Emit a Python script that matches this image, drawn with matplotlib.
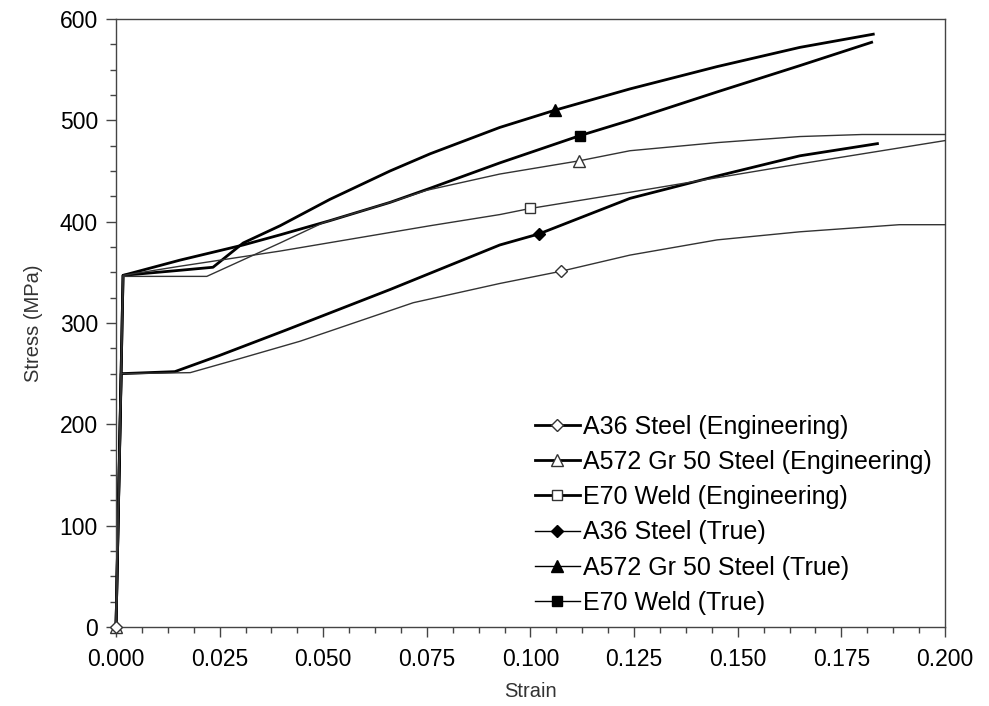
import matplotlib
matplotlib.use("Agg")
import matplotlib.pyplot as plt
from matplotlib.ticker import MultipleLocator

plt.rcParams['font.family'] = ['Liberation Sans', 'DejaVu Sans']

# stress-strain data (strain, stress in MPa)
a36_eng_strain = [0.0, 0.00125, 0.0179, 0.030, 0.0444, 0.0516, 0.0717, 0.0926, 0.1073, 0.124, 0.145, 0.165, 0.189, 0.200]
a36_eng_stress = [0, 250, 251, 265, 282, 292, 320, 339, 351, 367, 382, 390, 397, 397]

a572_eng_strain = [0.0, 0.0017, 0.0219, 0.0396, 0.050, 0.0661, 0.075, 0.0926, 0.1117, 0.124, 0.145, 0.165, 0.180, 0.200]
a572_eng_stress = [0, 346, 346, 379, 399, 419, 431, 447, 460, 470, 478, 484, 486, 486]

e70_eng_strain = [0.0, 0.0017, 0.0154, 0.0396, 0.0758, 0.0926, 0.0999, 0.124, 0.165, 0.200]
e70_eng_stress = [0, 347, 356, 371, 396, 407, 413, 429, 457, 480]

a36_true_strain = [0.0, 0.00125, 0.0142, 0.025, 0.041, 0.0661, 0.0926, 0.1021, 0.124, 0.145, 0.165, 0.1837]
a36_true_stress = [0, 250, 252, 268, 293, 333, 377, 388, 423, 445, 465, 477]

a572_true_strain = [0.0, 0.0017, 0.0154, 0.0234, 0.0307, 0.0396, 0.0516, 0.0661, 0.0758, 0.0926, 0.1059, 0.124, 0.145, 0.165, 0.1827]
a572_true_stress = [0, 347, 352, 355, 379, 396, 422, 450, 467, 493, 510, 531, 553, 572, 585]

e70_true_strain = [0.0, 0.0017, 0.0154, 0.0307, 0.0396, 0.0516, 0.0661, 0.0758, 0.0926, 0.112, 0.124, 0.145, 0.165, 0.1823]
e70_true_stress = [0, 347, 362, 377, 387, 401, 419, 433, 458, 485, 500, 528, 554, 577]

labels = ["A36 Steel (Engineering)", "A572 Gr 50 Steel (Engineering)", "E70 Weld (Engineering)",
          "A36 Steel (True)", "A572 Gr 50 Steel (True)", "E70 Weld (True)"]

fig = plt.figure(figsize=(9.89, 7.06), dpi=100)
ax = fig.add_axes([0.1173, 0.1119, 0.8382, 0.8612])

thin = dict(color='#333333', lw=1.0, markerfacecolor='white', markeredgecolor='#333333',
            markeredgewidth=1.0, clip_on=False)
thick = dict(color='black', lw=2.0, markerfacecolor='black', markeredgecolor='black', clip_on=False)

ax.plot(a36_eng_strain, a36_eng_stress, marker='D', ms=6, markevery=[0, 8], label=labels[0], zorder=5, **thin)
ax.plot(a572_eng_strain, a572_eng_stress, marker='^', ms=9, markevery=[0, 8], label=labels[1], zorder=4, **thin)
ax.plot(e70_eng_strain, e70_eng_stress, marker='s', ms=7, markevery=[6], label=labels[2], zorder=3, **thin)
ax.plot(a36_true_strain, a36_true_stress, marker='D', ms=6, markevery=[7], label=labels[3], zorder=2, **thick)
ax.plot(a572_true_strain, a572_true_stress, marker='^', ms=9, markevery=[10], label=labels[4], zorder=2, **thick)
ax.plot(e70_true_strain, e70_true_stress, marker='s', ms=7, markevery=[9], label=labels[5], zorder=2, **thick)

ax.set_xlim(0, 0.2)
ax.set_ylim(0, 600)
ax.xaxis.set_major_locator(MultipleLocator(0.025))
ax.xaxis.set_minor_locator(MultipleLocator(0.00625))
ax.yaxis.set_major_locator(MultipleLocator(100))
ax.yaxis.set_minor_locator(MultipleLocator(25))
ax.set_xticklabels(["%.3f" % v for v in ax.get_xticks()])
ax.tick_params(which='major', direction='out', length=7, width=1, color='#444444', labelsize=16.5, pad=8)
ax.tick_params(which='minor', direction='out', length=4, width=1, color='#444444')
ax.tick_params(axis='y', pad=6)
for s in ax.spines.values():
    s.set_color('#444444')
    s.set_linewidth(1.0)

ax.set_xlabel('Strain', fontsize=14.5, color='#333333', labelpad=8)
ax.set_ylabel('Stress (MPa)', fontsize=14.5, color='#333333', labelpad=12)

leg = ax.legend(loc='lower left', bbox_to_anchor=(0.5054, 0.02), frameon=False, fontsize=18,
                handlelength=1.8, handletextpad=0.12, labelspacing=0.45, borderpad=0,
                borderaxespad=0, numpoints=1)
for i, line in enumerate(leg.get_lines()):
    line.set_linewidth(2.0 if i < 3 else 1.0)
    line.set_color('black')

fig.savefig('out.png', dpi=100)
